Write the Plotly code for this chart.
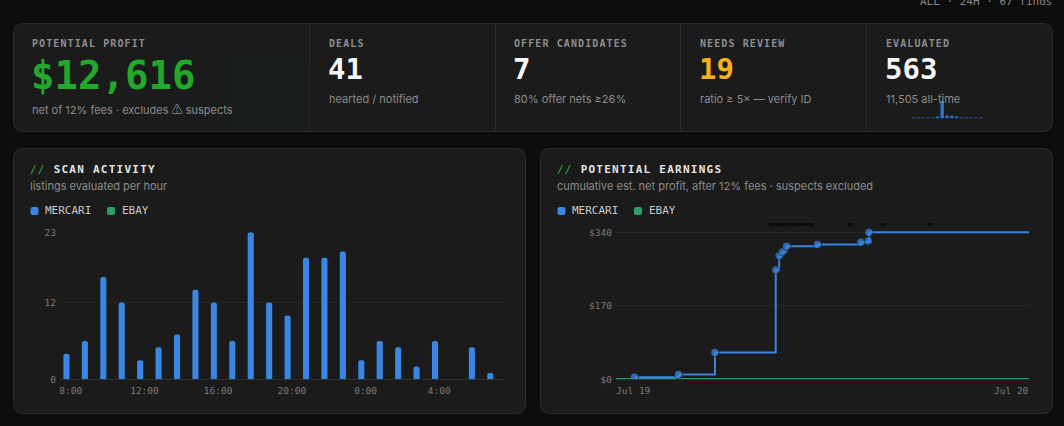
import json
import plotly.graph_objects as go

W, H = 1064, 426

# ---------------- data ----------------
scan_hours = [
    "2024-07-19 07:46", "2024-07-19 08:46", "2024-07-19 09:46", "2024-07-19 10:46",
    "2024-07-19 11:46", "2024-07-19 12:46", "2024-07-19 13:46", "2024-07-19 14:46",
    "2024-07-19 15:46", "2024-07-19 16:46", "2024-07-19 17:46", "2024-07-19 18:46",
    "2024-07-19 19:46", "2024-07-19 20:46", "2024-07-19 21:46", "2024-07-19 22:46",
    "2024-07-19 23:46", "2024-07-20 00:46", "2024-07-20 01:46", "2024-07-20 02:46",
    "2024-07-20 03:46", "2024-07-20 04:46", "2024-07-20 05:46", "2024-07-20 06:46",
]
scan_mercari = [4, 6, 16, 12, 3, 5, 7, 14, 12, 6, 23, 12, 10, 19, 19, 20, 3, 6, 5, 2, 6, 0, 5, 1]
scan_ebay = [0] * 24
scan_tickvals = ["2024-07-19 08:00", "2024-07-19 12:00", "2024-07-19 16:00",
                 "2024-07-19 20:00", "2024-07-20 00:00", "2024-07-20 04:00"]
scan_ticktext = ["8:00", "12:00", "16:00", "20:00", "0:00", "4:00"]
scan_yticks = [0, 12, 23]

earn_times = ["2024-07-19 01:04", "2024-07-19 03:38", "2024-07-19 05:45", "2024-07-19 09:17",
              "2024-07-19 09:29", "2024-07-19 09:41", "2024-07-19 09:55", "2024-07-19 11:42",
              "2024-07-19 14:14", "2024-07-19 14:40", "2024-07-19 14:42", "2024-07-20 00:00"]
earn_mercari = [5, 11, 62, 253, 286, 295, 308, 312, 317, 320, 340, 340]
earn_ebay_times = ["2024-07-19 00:00", "2024-07-20 00:00"]
earn_ebay = [0, 0]
earn_yticks = [0, 170, 340]
earn_yticktext = ["$0", "$170", "$340"]
earn_xlabels = ["Jul 19", "Jul 20"]
suspect_times = ["2024-07-19 09:03", "2024-07-19 09:22", "2024-07-19 09:41", "2024-07-19 10:01",
                 "2024-07-19 10:20", "2024-07-19 10:40", "2024-07-19 10:59", "2024-07-19 11:18",
                 "2024-07-19 13:36", "2024-07-19 15:32", "2024-07-19 18:15"]
EARN_YMAX = 361.5

eval_hist = [28, 31, 25, 30, 27, 33, 563, 96, 88, 40, 29, 31, 26, 30, 27]

kpis = [
    ("POTENTIAL PROFIT", "$12,616",
     "net of 12% fees · excludes <span style='font-family:\"Noto Sans CJK SC\"'>⚠</span> suspects"),
    ("DEALS", "41", "hearted / notified"),
    ("OFFER CANDIDATES", "7", "80% offer nets ≥26%"),
    ("NEEDS REVIEW", "19", "ratio ≥ 5× — verify ID"),
    ("EVALUATED", "563", "11,505 all-time"),
]

# ---------------- style ----------------
BLUE = "#3a86e5"
GREEN = "#2a9f6b"
PROFIT_GREEN = "#22a92b"
YELLOW = "#f5b21c"
CARD = "#1b1b1b"
BORDER = "#2c2c2c"
PAGE = "#0d0d0d"
MUTED = "#8c8c8c"
MONO = "DejaVu Sans Mono"
SANS = "Inter, DejaVu Sans"


def X(px):
    return px / W


def Y(py):
    return 1 - py / H


def rrect(x0, y0, x1, y1, r, fill, line=None, lw=1):
    p = (f"M{X(x0+r)},{Y(y0)} L{X(x1-r)},{Y(y0)} Q{X(x1)},{Y(y0)} {X(x1)},{Y(y0+r)} "
         f"L{X(x1)},{Y(y1-r)} Q{X(x1)},{Y(y1)} {X(x1-r)},{Y(y1)} "
         f"L{X(x0+r)},{Y(y1)} Q{X(x0)},{Y(y1)} {X(x0)},{Y(y1-r)} "
         f"L{X(x0)},{Y(y0+r)} Q{X(x0)},{Y(y0)} {X(x0+r)},{Y(y0)} Z")
    return dict(type="path", path=p, xref="paper", yref="paper", fillcolor=fill,
                line=dict(color=line if line else "rgba(0,0,0,0)", width=lw if line else 0),
                layer="below")


def txt(s, x, y, size, color, family, xanchor="left", bold=False):
    return dict(text=s, x=X(x), y=Y(y), xref="paper", yref="paper", xanchor=xanchor,
                yanchor="middle", align="left" if xanchor == "left" else "right",
                showarrow=False, borderpad=0, borderwidth=0,
                font=dict(size=size, color=color, family=family, weight=700 if bold else 400))


fig = go.Figure()

# scan activity bars
fig.add_trace(go.Bar(x=scan_hours, y=scan_mercari, name="MERCARI", marker_color=BLUE,
                     marker_line_width=0, marker_cornerradius=2, width=0.33 * 3600 * 1000,
                     xaxis="x", yaxis="y", showlegend=False))
fig.add_trace(go.Bar(x=scan_hours, y=scan_ebay, name="EBAY", marker_color=GREEN,
                     marker_line_width=0, width=0.33 * 3600 * 1000, xaxis="x", yaxis="y",
                     showlegend=False))

# earnings
fig.add_trace(go.Scatter(x=earn_ebay_times, y=earn_ebay, mode="lines", name="EBAY",
                         line=dict(color=GREEN, width=2.5), xaxis="x2", yaxis="y2",
                         showlegend=False))
fig.add_trace(go.Scatter(x=earn_times, y=earn_mercari, mode="lines+markers", name="MERCARI",
                         line=dict(color=BLUE, width=2, shape="hv"),
                         marker=dict(size=[8.5] * (len(earn_times) - 1) + [0], color=BLUE,
                                     line=dict(color=CARD, width=1)),
                         xaxis="x2", yaxis="y2", showlegend=False))
fig.add_trace(go.Scatter(x=suspect_times, y=[EARN_YMAX] * len(suspect_times), mode="markers",
                         marker=dict(size=7, color="#0a0a0a", line=dict(color=CARD, width=0.5)),
                         xaxis="x2", yaxis="y2", showlegend=False, hoverinfo="skip"))

# sparkline
fig.add_trace(go.Bar(x=list(range(len(eval_hist))), y=eval_hist, marker_color="#3272c4",
                     marker_line_width=0, width=0.7, xaxis="x3", yaxis="y3",
                     showlegend=False, hoverinfo="skip"))

tickfont = dict(family=MONO, size=9.5, color="#7c7c7c")

shapes = []
# cards
shapes.append(rrect(13.5, 23.5, 1052.5, 131.5, 10, CARD, BORDER))
shapes.append(rrect(13.5, 148.5, 525.5, 413.5, 10, CARD, BORDER))
shapes.append(rrect(540.5, 148.5, 1052.5, 413.5, 10, CARD, BORDER))
# very subtle green tint in the first KPI cell
shapes.append(dict(type="rect", xref="paper", yref="paper", x0=X(160), x1=X(309),
                   y0=Y(131), y1=Y(24), fillcolor="rgba(40,160,60,0.012)",
                   line=dict(width=0), layer="below"))
shapes.append(dict(type="rect", xref="paper", yref="paper", x0=X(230), x1=X(309),
                   y0=Y(131), y1=Y(60), fillcolor="rgba(40,160,60,0.012)",
                   line=dict(width=0), layer="below"))
for dx in [309.5, 495.5, 680.5, 866.5]:
    shapes.append(dict(type="line", xref="paper", yref="paper", x0=X(dx), x1=X(dx),
                       y0=Y(24), y1=Y(131), line=dict(color="#2a2a2a", width=1), layer="below"))

# legend swatches
for (sx, col) in [(30.5, BLUE), (107, GREEN), (557.5, BLUE), (634, GREEN)]:
    shapes.append(rrect(sx, 207, sx + 8, 215, 2, col))

ann = []
# KPI texts
cell_x = [32, 329, 514, 700, 886]
for i, (head, val, sub) in enumerate(kpis):
    cx = cell_x[i]
    ann.append(txt(head, cx, 43, 10, "#8e8e8e", MONO, bold=True))
    if i == 0:
        ann.append(txt(val, cx - 1, 75, 39, PROFIT_GREEN, MONO, bold=True))
        ann.append(txt(sub, cx, 108.5, 11, MUTED, SANS))
    else:
        col = YELLOW if head == "NEEDS REVIEW" else "#f5f5f5"
        ann.append(txt(val, cx - 1, 68.5, 29, col, MONO, bold=True))
        ann.append(txt(sub, cx, 99, 11, MUTED, SANS))

ann.append(txt("ALL · 24H · 67 finds", 1052, 2, 11, "#8a8a8a", MONO, xanchor="right"))

# chart card titles
for (tx, title, subtitle) in [(30, "SCAN ACTIVITY", "listings evaluated per hour"),
                              (557, "POTENTIAL EARNINGS",
                               "cumulative est. net profit, after 12% fees · suspects excluded")]:
    ann.append(txt(f"<span style='color:#2aae3a;font-weight:400'>//</span> <b>{title}</b>",
                   tx, 169.3, 11, "#e4e4e4", MONO))
    ann.append(txt(subtitle, tx, 186, 11, MUTED, SANS))

for (lx, label) in [(44.5, "MERCARI"), (122, "EBAY"), (571.5, "MERCARI"), (649, "EBAY")]:
    ann.append(txt(label, lx, 211, 11, "#c9c9c9", MONO))

# earnings x end labels (anchored inside like the original)
ann.append(dict(text=earn_xlabels[0], x=earn_ebay_times[0], y=Y(390.5), xref="x2", yref="paper",
                xanchor="left", yanchor="middle", showarrow=False, borderpad=0, borderwidth=0,
                font=tickfont))
ann.append(dict(text=earn_xlabels[1], x=earn_ebay_times[1], y=Y(390.5), xref="x2", yref="paper",
                xanchor="right", yanchor="middle", showarrow=False, borderpad=0, borderwidth=0,
                font=tickfont))

fig.update_layout(
    width=W, height=H, margin=dict(l=0, r=0, t=0, b=0, pad=0, autoexpand=False),
    paper_bgcolor=PAGE, plot_bgcolor="rgba(0,0,0,0)",
    shapes=shapes, annotations=ann, barmode="overlay", hovermode=False,
    xaxis=dict(type="date", domain=[X(60), X(503.5)], anchor="y",
               range=["2024-07-19 07:25", "2024-07-20 07:29"],
               tickvals=scan_tickvals, ticktext=scan_ticktext, tickfont=tickfont,
               showgrid=False, zeroline=False, showline=False, ticks="",
               ticklabelstandoff=4, automargin=False),
    yaxis=dict(domain=[Y(379.3), Y(232.3)], anchor="x", range=[0, 23], tickvals=scan_yticks,
               tickfont=tickfont, gridcolor="#262626", gridwidth=1, zeroline=True,
               zerolinecolor="#303030", zerolinewidth=1, showline=False, ticks="",
               ticklabelstandoff=3, automargin=False),
    xaxis2=dict(type="date", domain=[X(616), X(1029)], anchor="y2",
                range=["2024-07-19 00:00", "2024-07-20 00:00"], showticklabels=False,
                showgrid=False, zeroline=False, showline=False, ticks="", automargin=False),
    yaxis2=dict(domain=[Y(379.3), Y(223)], anchor="x2", range=[0, EARN_YMAX],
                tickvals=earn_yticks, ticktext=earn_yticktext, tickfont=tickfont,
                gridcolor="#262626", gridwidth=1, zeroline=False, showline=False, ticks="",
                ticklabelstandoff=3, automargin=False),
    xaxis3=dict(domain=[X(911), X(983)], anchor="y3", range=[-0.5, len(eval_hist) - 0.5],
                visible=False),
    yaxis3=dict(domain=[Y(118.5), Y(100.5)], anchor="x3", range=[0, max(eval_hist)],
                visible=False),
)

spacing = {
    "POTENTIAL PROFIT": "1.1px", "DEALS": "1.1px", "OFFER CANDIDATES": "1.1px",
    "NEEDS REVIEW": "1.1px", "EVALUATED": "1.1px",
    "// SCAN ACTIVITY": "1.25px", "// POTENTIAL EARNINGS": "1.25px",
}
post = """
(function(){
  var SP = %s;
  function applyLS(){
    document.querySelectorAll('text.annotation-text').forEach(function(t){
      var k = (t.textContent || '').trim();
      if (Object.prototype.hasOwnProperty.call(SP, k)) { t.style.letterSpacing = SP[k]; }
    });
  }
  applyLS(); setTimeout(applyLS, 30); setTimeout(applyLS, 300);
  var gd = document.getElementById('{plot_id}');
  if (gd && gd.on) { gd.on('plotly_afterplot', applyLS); }
})();
""" % json.dumps(spacing)

fig.write_html("out.html", post_script=post, config={"displayModeBar": False})
